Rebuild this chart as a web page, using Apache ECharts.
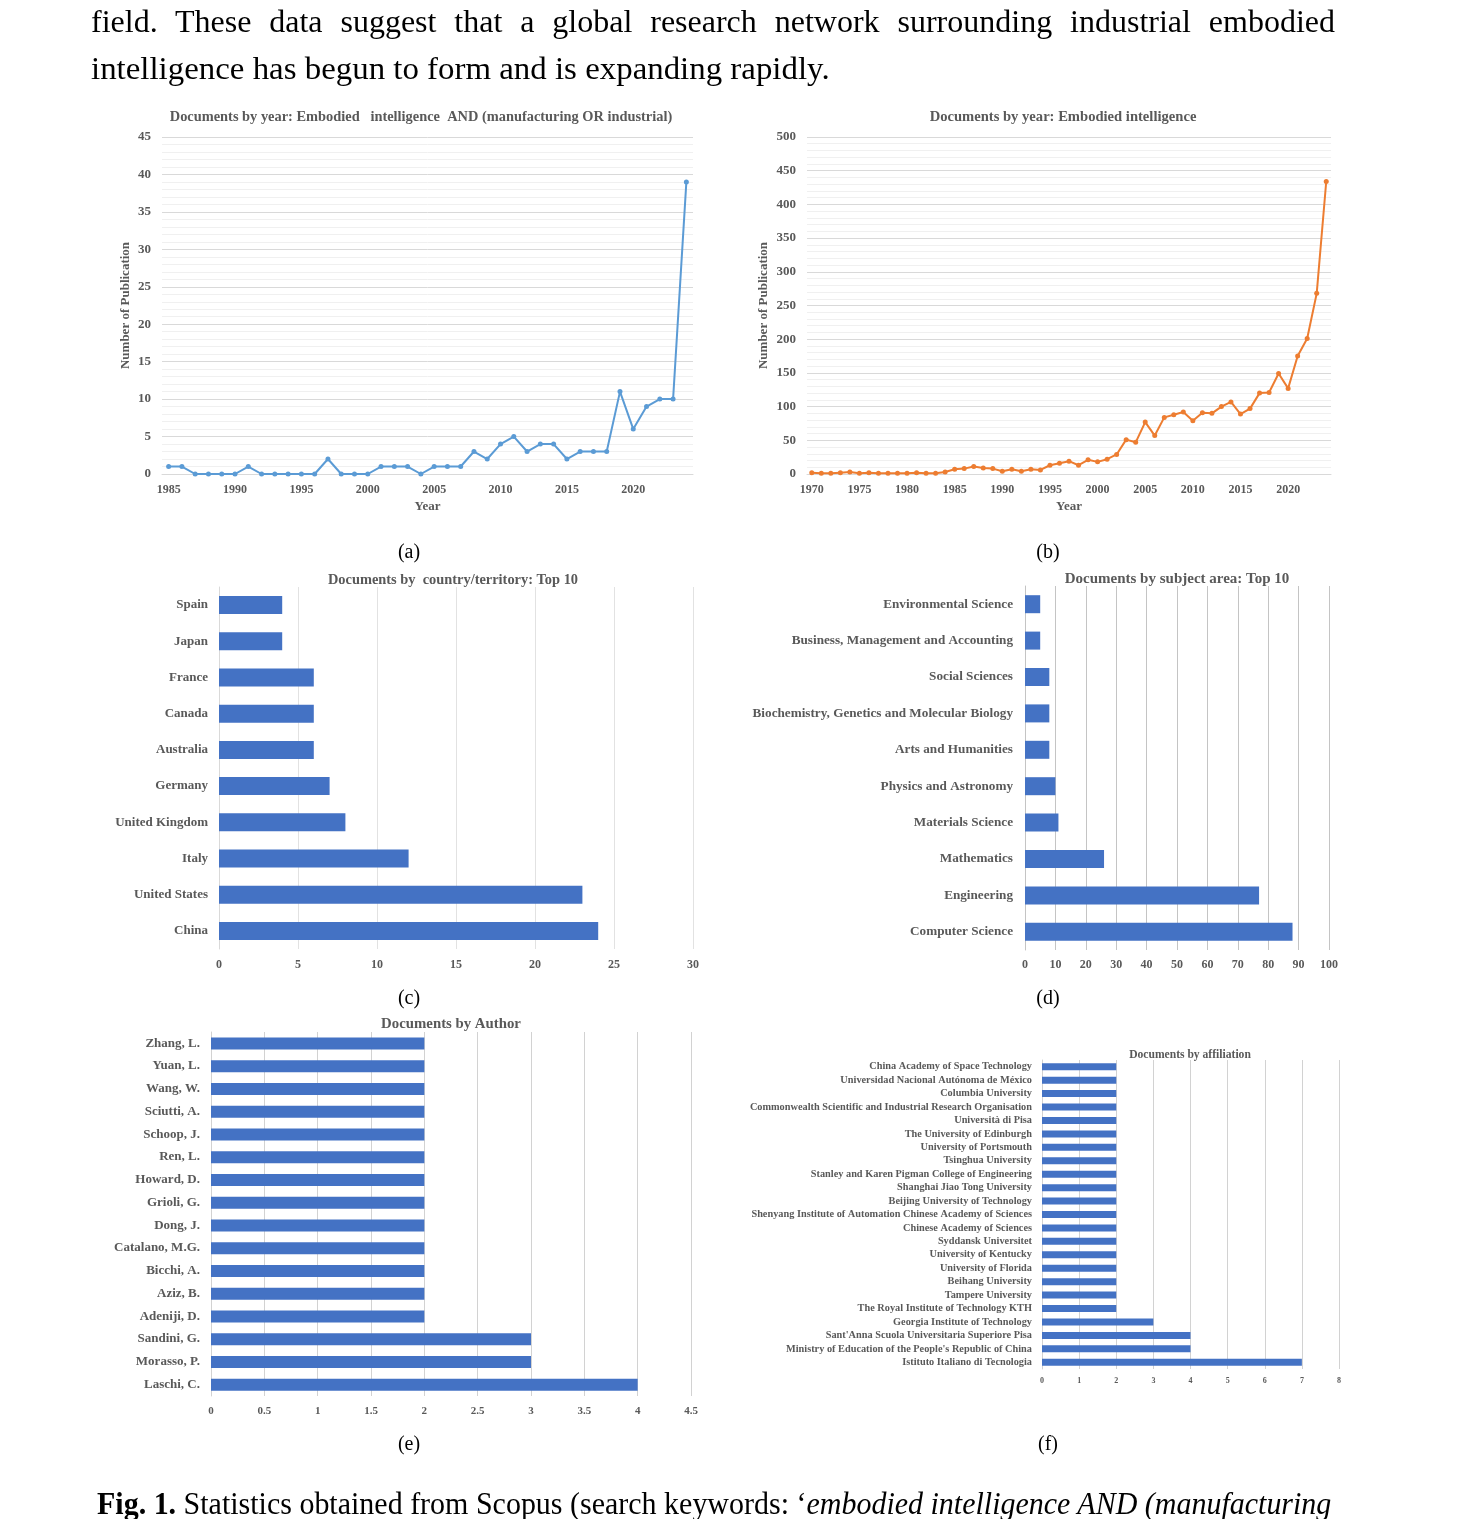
<!DOCTYPE html>
<html>
<head>
<meta charset="utf-8">
<script src="https://cdn.jsdelivr.net/npm/echarts@6/dist/echarts.min.js"></script>
<style>
  html, body { margin: 0; padding: 0; background: #fff; }
  #chart { position: absolute; left: 0; top: 0; width: 1459px; height: 1519px; }
  .txt { position: absolute; font-family: "Liberation Serif", "Times New Roman", serif; font-size: 32px; line-height: 47px; color: #000; white-space: nowrap; }
  .just { text-align: justify; text-align-last: justify; }
  .fit { display: inline-block; transform-origin: 0 50%; }
</style>
</head>
<body>
<div id="chart"></div>
<div class="txt just" style="left:91px; top:-2px; width:1244px;">field. These data suggest that a global research network surrounding industrial embodied</div>
<div class="txt fit" data-w="739" style="left:91px; top:45px;">intelligence has begun to form and is expanding rapidly.</div>
<div class="txt fit" data-w="1234" style="left:97px; top:1480px;"><b>Fig. 1.</b> Statistics obtained from Scopus (search keywords: ‘<i>embodied intelligence AND (manufacturing</i></div>

<script>
// (a) Embodied intelligence AND (manufacturing OR industrial)
const yearsA = ["1985","1986","1987","1988","1989","1990","1991","1992","1993","1994",
  "1995","1996","1997","1998","1999","2000","2001","2002","2003","2004",
  "2005","2006","2007","2008","2009","2010","2011","2012","2013","2014",
  "2015","2016","2017","2018","2019","2020","2021","2022","2023","2024"];
const docsA = [1, 1, 0, 0, 0, 0, 1, 0, 0, 0,
  0, 0, 2, 0, 0, 0, 1, 1, 1, 0,
  1, 1, 1, 3, 2, 4, 5, 3, 4, 4,
  2, 3, 3, 3, 11, 6, 9, 10, 10, 39];

// (b) Embodied intelligence
const yearsB = ["1970","1971","1972","1973","1974","1975","1976","1977","1978","1979",
  "1980","1981","1982","1983","1984","1985","1986","1987","1988","1989",
  "1990","1991","1992","1993","1994","1995","1996","1997","1998","1999",
  "2000","2001","2002","2003","2004","2005","2006","2007","2008","2009",
  "2010","2011","2012","2013","2014","2015","2016","2017","2018","2019",
  "2020","2021","2022","2023","2024"];
const docsB = [2, 1, 1, 2, 3, 1, 2, 1, 1, 1,
  1, 2, 1, 1, 3, 7, 8, 11, 9, 8,
  4, 7, 4, 7, 6, 13, 16, 19, 13, 21,
  18, 22, 29, 51, 47, 77, 57, 84, 88, 92,
  79, 91, 90, 100, 107, 89, 97, 120, 121, 149,
  127, 175, 201, 268, 434];

// (c) country/territory, top to bottom
const countries = ["Spain", "Japan", "France", "Canada", "Australia", "Germany",
  "United Kingdom", "Italy", "United States", "China"];
const countryDocs = [4, 4, 6, 6, 6, 7, 8, 12, 23, 24];

// (d) subject area, top to bottom
const subjects = ["Environmental Science", "Business, Management and Accounting",
  "Social Sciences", "Biochemistry, Genetics and Molecular Biology", "Arts and Humanities",
  "Physics and Astronomy", "Materials Science", "Mathematics", "Engineering", "Computer Science"];
const subjectDocs = [5, 5, 8, 8, 8, 10, 11, 26, 77, 88];

// (e) author, top to bottom
const authors = ["Zhang, L.", "Yuan, L.", "Wang, W.", "Sciutti, A.", "Schoop, J.", "Ren, L.",
  "Howard, D.", "Grioli, G.", "Dong, J.", "Catalano, M.G.", "Bicchi, A.", "Aziz, B.",
  "Adeniji, D.", "Sandini, G.", "Morasso, P.", "Laschi, C."];
const authorDocs = [2, 2, 2, 2, 2, 2, 2, 2, 2, 2, 2, 2, 2, 3, 3, 4];

// (f) affiliation, top to bottom
const affiliations = ["China Academy of Space Technology", "Universidad Nacional Autónoma de México",
  "Columbia University", "Commonwealth Scientific and Industrial Research Organisation",
  "Università di Pisa", "The University of Edinburgh", "University of Portsmouth",
  "Tsinghua University", "Stanley and Karen Pigman College of Engineering",
  "Shanghai Jiao Tong University", "Beijing University of Technology",
  "Shenyang Institute of Automation Chinese Academy of Sciences", "Chinese Academy of Sciences",
  "Syddansk Universitet", "University of Kentucky", "University of Florida", "Beihang University",
  "Tampere University", "The Royal Institute of Technology KTH", "Georgia Institute of Technology",
  "Sant'Anna Scuola Universitaria Superiore Pisa",
  "Ministry of Education of the People's Republic of China", "Istituto Italiano di Tecnologia"];
const affiliationDocs = [2, 2, 2, 2, 2, 2, 2, 2, 2, 2, 2, 2, 2, 2, 2, 2, 2, 2, 2, 3, 4, 4, 7];

// squeeze/stretch the body text lines to the page widths
document.querySelectorAll(".fit").forEach(function (el) {
  el.style.transform = "scaleX(" + (+el.dataset.w / el.offsetWidth) + ")";
});

const FONT = "'Liberation Serif', 'Times New Roman', serif";
const GREY = "#595959";
const BAR = "#4472C4";

function lbl(size, extra) {
  return Object.assign({ color: GREY, fontFamily: FONT, fontWeight: "bold", fontSize: size }, extra || {});
}
function title(text, x, y, size) {
  return { type: "text", x: x, y: y,
    style: { text: text, fill: GREY, font: "bold " + size + "px " + FONT, textAlign: "center", textVerticalAlign: "middle" } };
}
function panel(text, x, y) {
  return { type: "text", x: x, y: y,
    style: { text: text, fill: "#000", font: "20px " + FONT, textAlign: "center", textVerticalAlign: "middle" } };
}

// year line charts share most settings
function yearX(idx, data) {
  return {
    type: "category", gridIndex: idx, data: data, boundaryGap: true,
    axisLine: { lineStyle: { color: "#d9d9d9" } }, axisTick: { show: false },
    axisLabel: lbl(12, { interval: 4, margin: 10 }),
    name: "Year", nameLocation: "middle", nameGap: 26, nameTextStyle: lbl(13)
  };
}
function yearY(idx, max, step, gap) {
  return {
    type: "value", gridIndex: idx, min: 0, max: max, interval: step,
    axisLine: { show: false }, axisTick: { show: false },
    axisLabel: lbl(13, { margin: 11 }),
    splitLine: { lineStyle: { color: "#d9d9d9" } },
    minorTick: { show: false, splitNumber: 5 },
    minorSplitLine: { show: true, lineStyle: { color: "#f0f0f0" } },
    name: "Number of Publication", nameLocation: "middle", nameGap: gap, nameTextStyle: lbl(13)
  };
}
function barX(idx, max, step, grid, size, margin) {
  return {
    type: "value", gridIndex: idx, min: 0, max: max, interval: step,
    axisLine: { show: false }, axisTick: { show: false },
    axisLabel: lbl(size, { margin: margin }),
    splitLine: { lineStyle: { color: grid } }
  };
}
function barY(idx, data, size, margin, line) {
  return {
    type: "category", gridIndex: idx, data: data, inverse: true,
    axisLine: { lineStyle: { color: line } }, axisTick: { show: false },
    axisLabel: lbl(size, { interval: 0, margin: margin })
  };
}
function bars(idx, data, width) {
  return { type: "bar", xAxisIndex: idx, yAxisIndex: idx, data: data, barWidth: width,
    itemStyle: { color: BAR } };
}

const chart = echarts.init(document.getElementById("chart"));
chart.setOption({
  animation: false,
  backgroundColor: "#fff",
  grid: [
    { left: 162, top: 137, width: 531, height: 337 },
    { left: 807, top: 137, width: 524, height: 337 },
    { left: 219, top: 587, width: 474, height: 362 },
    { left: 1025, top: 586, width: 304, height: 364 },
    { left: 211, top: 1032, width: 480, height: 364 },
    { left: 1042, top: 1060, width: 297, height: 309 }
  ],
  xAxis: [
    yearX(0, yearsA),
    yearX(1, yearsB),
    barX(2, 30, 5, "#e2e2e2", 12, 10),
    barX(3, 100, 10, "#c4c4c4", 12, 9),
    barX(4, 4.5, 0.5, "#d2d2d2", 11, 10),
    barX(5, 8, 1, "#d2d2d2", 8, 8)
  ],
  yAxis: [
    yearY(0, 45, 5, 30),
    yearY(1, 500, 50, 37),
    barY(2, countries, 13, 11, "#d9d9d9"),
    barY(3, subjects, 13.2, 12, "#c4c4c4"),
    barY(4, authors, 13, 11, "#d2d2d2"),
    barY(5, affiliations, 10.3, 10, "#d2d2d2")
  ],
  series: [
    { type: "line", xAxisIndex: 0, yAxisIndex: 0, data: docsA, symbol: "circle", symbolSize: 5,
      itemStyle: { color: "#5B9BD5" }, lineStyle: { color: "#5B9BD5", width: 2 } },
    { type: "line", xAxisIndex: 1, yAxisIndex: 1, data: docsB, symbol: "circle", symbolSize: 5,
      itemStyle: { color: "#ED7D31" }, lineStyle: { color: "#ED7D31", width: 2 } },
    bars(2, countryDocs, 18),
    bars(3, subjectDocs, 18),
    bars(4, authorDocs, 12),
    bars(5, affiliationDocs, 7)
  ],
  graphic: [
    title("Documents by year: Embodied   intelligence  AND (manufacturing OR industrial)", 421, 117, 14.4),
    title("Documents by year: Embodied intelligence", 1063, 117, 14.6),
    title("Documents by  country/territory: Top 10", 453, 580, 14.4),
    title("Documents by subject area: Top 10", 1177, 579, 15),
    title("Documents by Author", 451, 1024, 14.8),
    title("Documents by affiliation", 1190, 1055, 11.6),
    panel("(a)", 409, 553),
    panel("(b)", 1048, 553),
    panel("(c)", 409, 999),
    panel("(d)", 1048, 999),
    panel("(e)", 409, 1445),
    panel("(f)", 1048, 1445)
  ]
});
</script>
</body>
</html>
